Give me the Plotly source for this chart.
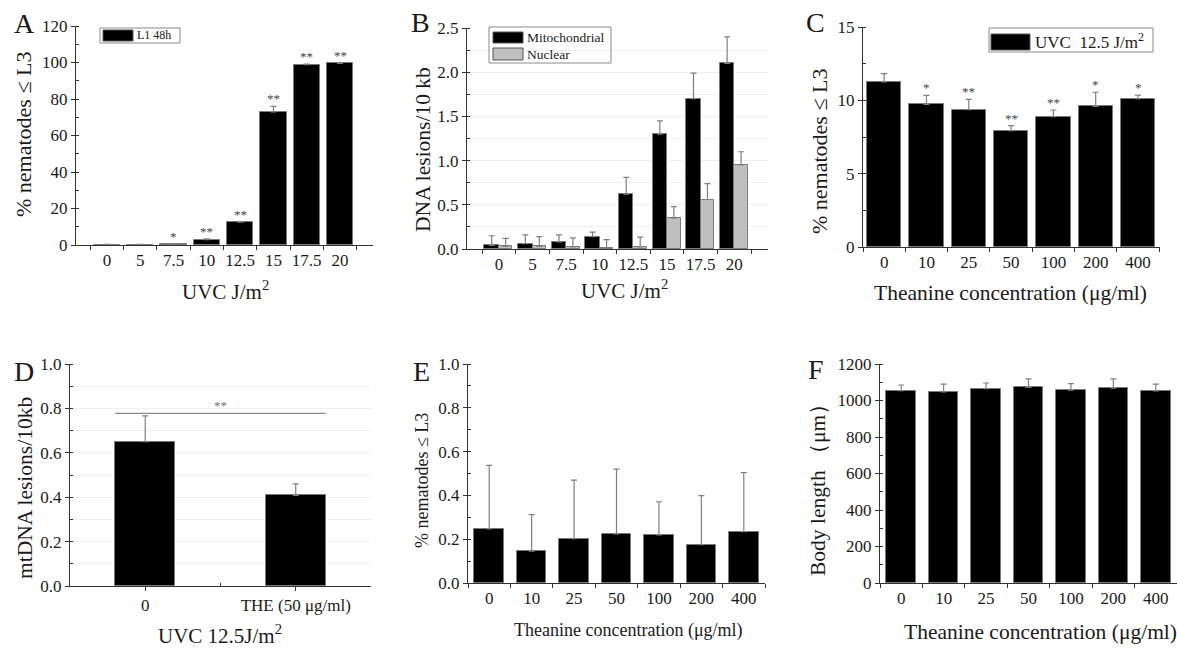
import plotly.graph_objects as go

W, H = 1177, 648

# ---------------- data ----------------
uvc_doses = ["0", "5", "7.5", "10", "12.5", "15", "17.5", "20"]
a_vals = [0.2, 0.2, 0.5, 3.0, 12.5, 73.0, 98.8, 99.5]
a_errs = [0.1, 0.1, 0.2, 0.4, 0.3, 3.0, 0.3, 0.3]
a_stars = ["", "", "*", "**", "**", "**", "**", "**"]

b_mito = [0.04, 0.06, 0.08, 0.14, 0.62, 1.30, 1.70, 2.10]
b_mito_err = [0.11, 0.10, 0.08, 0.05, 0.19, 0.15, 0.29, 0.30]
b_nuc = [0.03, 0.03, 0.025, 0.01, 0.025, 0.35, 0.56, 0.95]
b_nuc_err = [0.09, 0.11, 0.10, 0.095, 0.11, 0.13, 0.18, 0.15]

thea_conc = ["0", "10", "25", "50", "100", "200", "400"]
c_vals = [11.25, 9.73, 9.36, 7.93, 8.89, 9.59, 10.11]
c_errs = [0.57, 0.61, 0.71, 0.34, 0.45, 0.96, 0.25]
c_stars = ["", "*", "**", "**", "**", "*", "*"]

d_groups = ["0", "THE (50 μg/ml)"]
d_vals = [0.65, 0.408]
d_errs = [0.116, 0.052]
d_sig_y = 0.778

e_vals = [0.247, 0.145, 0.202, 0.224, 0.220, 0.175, 0.234]
e_errs = [0.290, 0.167, 0.268, 0.296, 0.151, 0.224, 0.270]

f_vals = [1054, 1047, 1065, 1072, 1057, 1067, 1052]
f_errs = [31, 43, 31, 46, 35, 51, 38]

# ---------------- style ----------------
FONT = "Liberation Serif, Times New Roman, serif"
INK = "#1a1a1a"
AXC = "#333333"
ERRC = "#808080"
BAR_LINE = "#7a7a7a"


def px_x(p):
    return p / W


def px_y(p):
    return 1 - p / H


fig = go.Figure()

# panel geometry in pixels: (x0, x1, ytop, ybottom)
panels = {
    "A": (76, 373, 26, 245),
    "B": (467, 768, 28, 249),
    "C": (863, 1160, 27, 247),
    "D": (70, 371, 364, 586),
    "E": (468, 765, 364, 583),
    "F": (880, 1177, 364, 583),
}
order = ["A", "B", "C", "D", "E", "F"]


def bar(x, y, err, idx, color="black", width=0.8, offset=None, name=None):
    kw = {}
    if offset is not None:
        kw["offset"] = offset
    return go.Bar(
        x=x, y=y, width=width, name=name, showlegend=False,
        marker=dict(color=color, line=dict(color=BAR_LINE, width=1)),
        error_y=dict(type="data", array=err, arrayminus=[0] * len(err),
                     symmetric=False, color=ERRC, thickness=1.2, width=3),
        xaxis=f"x{idx}" if idx > 1 else "x",
        yaxis=f"y{idx}" if idx > 1 else "y",
        **kw,
    )


idxA = list(range(len(uvc_doses)))
idxT = list(range(len(thea_conc)))
idxD = list(range(len(d_groups)))

fig.add_trace(bar(idxA, a_vals, a_errs, 1, width=0.79))
fig.add_trace(bar(idxA, b_mito, b_mito_err, 2, width=0.43, offset=-0.43, name="Mitochondrial"))
fig.add_trace(bar(idxA, b_nuc, b_nuc_err, 2, color="#c0c0c0", width=0.40, offset=0.0, name="Nuclear"))
fig.add_trace(bar(idxT, c_vals, c_errs, 3, width=0.81))
fig.add_trace(bar(idxD, d_vals, d_errs, 4, width=0.40))
fig.add_trace(bar(idxT, e_vals, e_errs, 5, width=0.70))
fig.add_trace(bar(idxT, f_vals, f_errs, 6, width=0.70))

layout = dict(
    width=W, height=H, margin=dict(l=0, r=0, t=0, b=0, autoexpand=False),
    paper_bgcolor="white", plot_bgcolor="white",
    font=dict(family=FONT, color=INK, size=17),
    barmode="overlay", bargap=0, showlegend=False,
)

yconf = {
    "A": dict(range=[0, 120], tickvals=[0, 20, 40, 60, 80, 100, 120], minor_dtick=10, grid=None),
    "B": dict(range=[0, 2.5], tickvals=[0, 0.5, 1.0, 1.5, 2.0, 2.5], minor_dtick=0.25, grid=0.25,
              fmt="0.1f"),
    "C": dict(range=[0, 15], tickvals=[0, 5, 10, 15], minor_dtick=2.5, grid=None),
    "D": dict(range=[0, 1.0], tickvals=[0, 0.2, 0.4, 0.6, 0.8, 1.0], minor_dtick=0.1, grid=0.1,
              fmt="0.1f"),
    "E": dict(range=[0, 1.0], tickvals=[0, 0.2, 0.4, 0.6, 0.8, 1.0], minor_dtick=0.1, grid=None,
              fmt="0.1f"),
    "F": dict(range=[0, 1200], tickvals=[0, 200, 400, 600, 800, 1000, 1200], minor_dtick=100, grid=None),
}
xconf = {
    "A": dict(range=[-0.93, 7.99], labels=uvc_doses, boundaries=True),
    "B": dict(range=[-0.95, 8.0], labels=uvc_doses, boundaries=True),
    "C": dict(range=[-0.5, 6.52], labels=thea_conc, boundaries=True),
    "D": dict(range=[-0.5, 1.5], labels=d_groups, boundaries=False),
    "E": dict(range=[-0.5, 6.5], labels=thea_conc, boundaries=True),
    "F": dict(range=[-0.5, 6.5], labels=thea_conc, boundaries=True),
}

for i, key in enumerate(order, start=1):
    x0, x1, yt, yb = panels[key]
    xc, yc = xconf[key], yconf[key]
    n = len(xc["labels"])
    sfx = "" if i == 1 else str(i)
    if xc["boundaries"]:
        minor_x = dict(tickmode="array", tickvals=[k - 0.5 for k in range(n + 1)],
                       ticks="outside", ticklen=4, tickcolor=AXC)
        major_ticks = ""
    else:
        minor_x = dict(tickmode="array", tickvals=[0.5], ticks="inside", ticklen=3, tickcolor=AXC)
        major_ticks = "outside"
    layout["xaxis" + sfx] = dict(
        domain=[px_x(x0), px_x(x1)], anchor="y" + sfx, range=xc["range"],
        tickmode="array", tickvals=list(range(n)), ticktext=xc["labels"],
        ticks=major_ticks, ticklen=4, tickcolor=AXC, automargin=False,
        showline=True, linecolor=AXC, linewidth=1, showgrid=False, zeroline=False,
        tickfont=dict(size=17, family=FONT, color=INK), minor=minor_x, fixedrange=True,
    )
    ytext = [format(v, yc["fmt"]) if "fmt" in yc else str(v) for v in yc["tickvals"]]
    ydict = dict(
        domain=[px_y(yb), px_y(yt)], anchor="x" + sfx, range=yc["range"],
        tickmode="array", tickvals=yc["tickvals"], ticktext=ytext,
        ticks="outside", ticklen=4, tickcolor=AXC, automargin=False,
        showline=True, linecolor=AXC, linewidth=1, zeroline=False,
        tickfont=dict(size=17, family=FONT, color=INK), fixedrange=True,
        minor=dict(dtick=yc["minor_dtick"], ticks="inside", ticklen=3, tickcolor=AXC,
                   showgrid=yc["grid"] is not None, gridcolor="#efefef", gridwidth=1),
        showgrid=yc["grid"] is not None, gridcolor="#efefef", gridwidth=1,
    )
    layout["yaxis" + sfx] = ydict

fig.update_layout(**layout)

ann = []
shapes = []

# panel letters
for key, (x, y) in {"A": (24, 24), "B": (420, 22), "C": (815, 22),
                    "D": (24, 371), "E": (421, 371), "F": (816, 369)}.items():
    ann.append(dict(x=px_x(x), y=px_y(y), xref="paper", yref="paper", text=key,
                    showarrow=False, font=dict(size=28, family=FONT, color=INK),
                    xanchor="center", yanchor="middle"))

# y axis titles
ytitles = [
    ("% nematodes ≤ L3", 23, 135, 22),
    ("DNA lesions/10 kb", 423, 150, 21.5),
    ("% nematodes ≤ L3", 820, 152, 22),
    ("mtDNA lesions/10kb", 25, 488, 21.5),
    ("% nematodes ≤ L3", 422, 481, 18),
    ("Body length （μm）", 818, 485, 21.5),
]
for t, x, y, s in ytitles:
    ann.append(dict(x=px_x(x), y=px_y(y), xref="paper", yref="paper", text=t, textangle=-90,
                    showarrow=False, font=dict(size=s, family=FONT, color=INK),
                    xanchor="center", yanchor="middle"))

# x axis titles
xtitles = [
    ("UVC J/m<sup>2</sup>", 225, 290, 21),
    ("UVC J/m<sup>2</sup>", 624, 289, 21),
    ("Theanine concentration (μg/ml)", 1010, 293, 21.5),
    ("UVC 12.5J/m<sup>2</sup>", 220, 634, 21),
    ("Theanine concentration (μg/ml)", 628, 630, 18),
    ("Theanine concentration (μg/ml)", 1040, 632, 21.5),
]
for t, x, y, s in xtitles:
    ann.append(dict(x=px_x(x), y=px_y(y), xref="paper", yref="paper", text=t,
                    showarrow=False, font=dict(size=s, family=FONT, color=INK),
                    xanchor="center", yanchor="middle"))

# significance stars
for k, s in enumerate(a_stars):
    if s:
        ann.append(dict(x=k, y=a_vals[k] + a_errs[k], xref="x", yref="y", text=s,
                        showarrow=False, yanchor="bottom", yshift=-2,
                        font=dict(size=13, family=FONT, color="#444444")))
for k, s in enumerate(c_stars):
    if s:
        ann.append(dict(x=k, y=c_vals[k] + c_errs[k], xref="x3", yref="y3", text=s,
                        showarrow=False, yanchor="bottom", yshift=-2,
                        font=dict(size=13, family=FONT, color="#444444")))

# panel D significance bracket
shapes.append(dict(type="line", xref="x4", yref="y4", x0=-0.2, x1=1.2, y0=d_sig_y, y1=d_sig_y,
                   line=dict(color="#8a8a8a", width=1.2)))
ann.append(dict(x=0.5, y=d_sig_y, xref="x4", yref="y4", text="**", showarrow=False,
                yanchor="bottom", yshift=-2, font=dict(size=13, family=FONT, color="#777777")))


# legends (drawn as boxes)
def legend_box(x0, y0, x1, y1):
    shapes.append(dict(type="rect", xref="paper", yref="paper", x0=px_x(x0), x1=px_x(x1),
                       y0=px_y(y1), y1=px_y(y0), line=dict(color="#8a8a8a", width=1),
                       fillcolor="rgba(0,0,0,0)"))


def legend_swatch(x0, y0, x1, y1, color):
    shapes.append(dict(type="rect", xref="paper", yref="paper", x0=px_x(x0), x1=px_x(x1),
                       y0=px_y(y1), y1=px_y(y0), line=dict(color="#555555", width=1),
                       fillcolor=color))


def legend_text(x, y, text, size):
    ann.append(dict(x=px_x(x), y=px_y(y), xref="paper", yref="paper", text=text,
                    showarrow=False, xanchor="left", yanchor="middle",
                    font=dict(size=size, family=FONT, color=INK)))


legend_box(100, 28, 180, 43)
legend_swatch(103, 30, 133, 41, "black")
legend_text(135, 35.5, "L1 48h", 12)

legend_box(489, 27, 611, 63)
legend_swatch(493, 32, 523, 43, "black")
legend_text(525, 37.5, "Mitochondrial", 13.5)
legend_swatch(493, 48, 523, 60, "#c0c0c0")
legend_text(525, 54, "Nuclear", 13.5)

legend_box(989, 28, 1153, 52)
legend_swatch(991, 34, 1030, 50, "black")
legend_text(1033, 41, "UVC  12.5 J/m<sup>2</sup>", 17)

fig.update_layout(annotations=ann, shapes=shapes)

fig.write_html(
    "out.html",
    config={"displayModeBar": False},
    post_script="document.body.style.margin='0';document.body.style.overflow='hidden';",
)
